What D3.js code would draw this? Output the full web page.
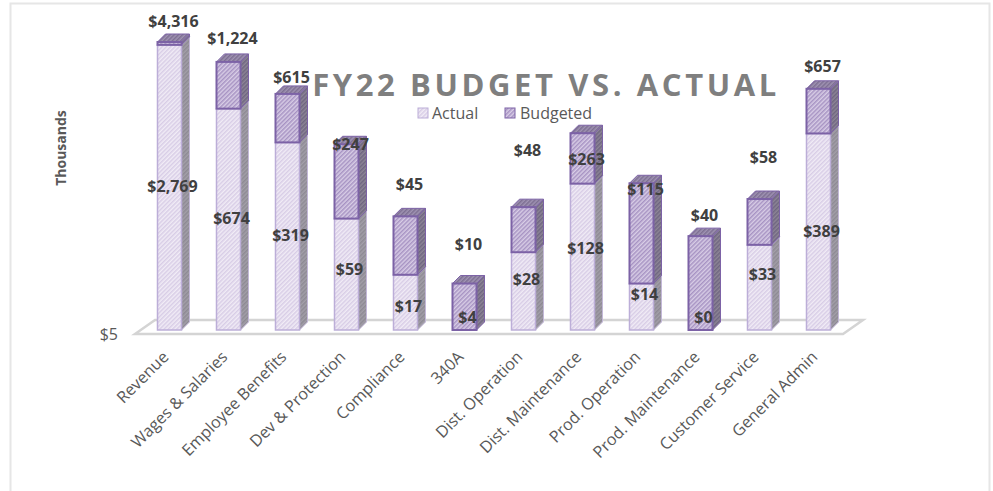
<!DOCTYPE html>
<html><head><meta charset="utf-8">
<script src="https://cdnjs.cloudflare.com/ajax/libs/d3/7.8.5/d3.min.js"></script>
<style>html,body{margin:0;padding:0;background:#fff}svg{display:block}text{font-family:"Open Sans","Noto Sans",sans-serif}</style>
</head><body><div id="chart"></div>
<script>
const categories = ["Revenue","Wages & Salaries","Employee Benefits","Dev & Protection","Compliance","340A","Dist. Operation","Dist. Maintenance","Prod. Operation","Prod. Maintenance","Customer Service","General Admin"];
const actual   = [2769,674,319,59,17,4,28,128,14,0,33,389];
const budgeted = [4316,1224,615,247,45,10,48,263,115,40,58,657];
const seriesNames = ["Actual","Budgeted"];
const axisFloor = 5, axisCap = 2950;
const chartTitle = "FY22 BUDGET VS. ACTUAL";
const yTitle = "Thousands";

// label layout tweaks (pixels, relative to segment middle / stack top)
const actualLabelShift = [0,0,0,-4,5,0,-11,-8,-12,0,-12,0];
const budgetLabelShift = [-20,-23,-16,1,-31,-39,-56,27,7,-20,-41,-22];

const W=993,H=491,baseY=330,depth=8,rise=8;
const svg=d3.select("#chart").append("svg").attr("width",W).attr("height",H);
const defs=svg.append("defs");
function hatch(id,bg,line,w){
  const p=defs.append("pattern").attr("id",id).attr("width",3).attr("height",3)
    .attr("patternUnits","userSpaceOnUse").attr("patternTransform","rotate(45)");
  p.append("rect").attr("width",3).attr("height",3).attr("fill",bg);
  p.append("rect").attr("width",w).attr("height",3).attr("fill",line);
}
hatch("hA","#f1ecf6","#d8cde6",1.5);
hatch("hB","#d8cde6","#a793c3",1.5);
hatch("sA","#a29fa8","#8e8a94",1.5);
hatch("sB","#8d8596","#6f6681",1.5);
hatch("tA","#a89fb5","#8d8499",1.5);
hatch("tB","#a093b3","#7d6f92",1.5);

svg.append("path").attr("d",`M10.5,${H}V3.5H989.5V${H}`).attr("fill","none").attr("stroke","#e6e6e6").attr("stroke-width",2);

const x=d3.scaleBand().domain(categories).range([140,848]).paddingInner(0.593).paddingOuter(0.2965);
const y=d3.scaleLog().domain([axisFloor,axisCap]).range([baseY,42]).clamp(true);

// floor
svg.append("path").attr("d",`M135,334L155,320H863L843,334Z`).attr("fill","#fff").attr("stroke","#d4d4d4").attr("stroke-width",2.5);

const axisG=svg.append("g").attr("transform",`translate(0,${baseY+5})`)
  .call(d3.axisBottom(x).tickSize(0).tickPadding(0));
axisG.select(".domain").remove();
axisG.selectAll("text").each(function(){
  d3.select(this).attr("x",0).attr("y",0).attr("dy",null).attr("text-anchor","end")
   .attr("dominant-baseline","middle")
   .attr("transform",`translate(-3,20) rotate(-45)`);
}).attr("font-size",16.2).attr("font-family",'"Open Sans","Noto Sans",sans-serif').attr("fill","#595959");

const yAxis=d3.axisLeft(y).tickValues([axisFloor]).tickFormat(d=>"$"+d).tickSize(0).tickPadding(0);
const yG=svg.append("g").attr("transform",`translate(118,4)`).call(yAxis);
yG.select(".domain").remove();
yG.selectAll("text").attr("font-size",16).attr("font-family",'"Open Sans","Noto Sans",sans-serif').attr("fill","#595959");

function seg(g,i,yt,yb,k){
  const c=categories[i],L=x(c),R=L+x.bandwidth();
  const stroke=k==="B"?"#7c62a6":"#bcaed8";
  g.append("path").attr("d",`M${R},${yt}L${R+depth},${yt-rise}V${yb-rise}L${R},${yb}Z`)
    .attr("fill",`url(#s${k})`).attr("stroke",k==="B"?"#7c62a6":"#c3b8d8").attr("stroke-width",1);
  g.append("path").attr("d",`M${L},${yt}L${L+depth},${yt-rise}H${R+depth}L${R},${yt}Z`)
    .attr("fill",`url(#t${k})`).attr("stroke",stroke).attr("stroke-width",1);
  g.append("rect").attr("x",L).attr("y",yt).attr("width",R-L).attr("height",Math.max(0,yb-yt))
    .attr("fill",`url(#h${k})`).attr("stroke",stroke).attr("stroke-width",k==="B"?2:1.5);
}
const bars=svg.append("g");
categories.forEach((c,i)=>{
  const g=bars.append("g");
  const a=y(Math.max(actual[i],axisFloor)), t=y(actual[i]+budgeted[i]);
  if(a<baseY) seg(g,i,a,baseY,"A");
  seg(g,i,t,a,"B");
});
const fmt=d3.format("$,");
const lab=svg.append("g").attr("font-size",16).attr("font-weight",700).attr("fill","#404040").attr("text-anchor","middle");
categories.forEach((c,i)=>{
  const cx=x(c)+x.bandwidth()/2+3;
  const a=y(Math.max(actual[i],axisFloor)), t=y(actual[i]+budgeted[i]);
  const aMid=a<baseY?(a+baseY)/2:baseY-12;
  lab.append("text").attr("x",cx).attr("y",aMid+actualLabelShift[i]+5).text(fmt(actual[i]));
  lab.append("text").attr("x",cx+1).attr("y",t+budgetLabelShift[i]+5).text(fmt(budgeted[i]));
});

svg.append("text").attr("x",546).attr("y",96).attr("text-anchor","middle").attr("font-size",31).attr("font-weight",700)
  .attr("letter-spacing",3.6).attr("fill","#7f7f7f").text(chartTitle);
svg.append("text").attr("transform","translate(66,148) rotate(-90)").attr("text-anchor","middle").attr("font-size",14).attr("font-weight",700).attr("fill","#595959").text(yTitle);

const lg=svg.append("g");
[[418,"A",432],[505,"B",520]].forEach(([lx,k,tx],i)=>{
  lg.append("rect").attr("x",lx).attr("y",108).attr("width",10).attr("height",10).attr("fill",`url(#h${k})`).attr("stroke",k==="B"?"#7c62a6":"#bcaed8");
  lg.append("text").attr("x",tx).attr("y",119).attr("font-size",16).attr("fill","#595959").text(seriesNames[i]);
});
</script></body></html>
